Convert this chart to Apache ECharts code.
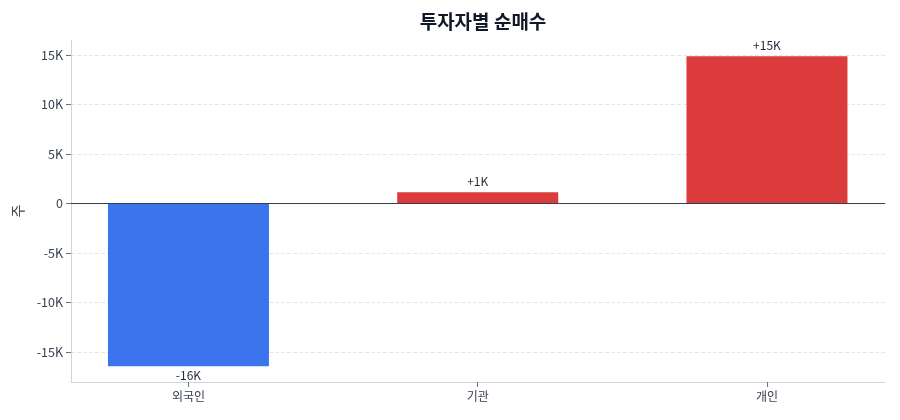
<!DOCTYPE html>
<html><head><meta charset="utf-8">
<script src="https://cdn.jsdelivr.net/npm/echarts@6/dist/echarts.min.js"></script>
<style>html,body{margin:0;padding:0;background:#fff}#c{width:900px;height:420px}</style>
</head><body><div id="c"></div>
<script>
const categories = ['외국인', '기관', '개인'];
const netBuy = [-16400, 1150, 14850];
const yTicks = [-15000, -10000, -5000, 0, 5000, 10000, 15000];
const POS = '#dc3b3b', NEG = '#3b74ec';
const chart = echarts.init(document.getElementById('c'));
function kfmt(v){ if (v === 0) return '0'; return (v > 0 ? '+' : '-') + Math.round(Math.abs(v)/1000) + 'K'; }
const catIdx = categories.map((c, i) => i);
chart.setOption({
  animation: false,
  textStyle: { fontFamily: 'Noto Sans CJK KR, Noto Sans, sans-serif' },
  title: { text: '투자자별 순매수', left: 478, textAlign: 'center', top: 7,
    textStyle: { fontSize: 19, fontWeight: 'bold', color: '#111827', fontFamily: 'Noto Sans CJK KR' } },
  grid: { left: 71, right: 15, top: 40, bottom: 38 },
  xAxis: { type: 'value', min: -0.406, max: 2.408,
    axisLine: { show: true, onZero: false, lineStyle: { color: '#d1d5db' } },
    axisTick: { show: true, customValues: catIdx, lineStyle: { color: '#6b7280' } },
    axisLabel: { color: '#374151', fontSize: 12, margin: 8, customValues: catIdx,
      formatter: v => categories[Math.round(v)] || '' },
    splitLine: { show: false } },
  yAxis: { type: 'value', min: -18000, max: 16500,
    name: '주', nameLocation: 'middle', nameGap: 46, nameRotate: 90,
    nameTextStyle: { color: '#374151', fontSize: 14 },
    axisLine: { show: true, onZero: false, lineStyle: { color: '#d1d5db' } },
    axisTick: { show: true, customValues: yTicks, lineStyle: { color: '#6b7280' } },
    axisLabel: { color: '#374151', fontSize: 12.5, customValues: yTicks,
      formatter: v => v === 0 ? '0' : (v/1000) + 'K' },
    splitLine: { lineStyle: { color: '#e5e7eb', type: 'dashed' } } },
  series: [{
    type: 'bar', barWidth: 161,
    data: netBuy.map((v, i) => ({ value: [i, v], itemStyle: { color: v >= 0 ? POS : NEG },
      label: { show: true, position: v >= 0 ? 'top' : 'bottom', distance: v >= 0 ? 5 : 3,
        formatter: p => kfmt(p.value[1]), color: '#1f2937', fontSize: 12 } })),
    markLine: { silent: true, symbol: 'none', label: { show: false },
      lineStyle: { color: '#374151', type: 'solid', width: 1.2 }, data: [{ yAxis: 0 }] }
  }]
});
</script></body></html>
